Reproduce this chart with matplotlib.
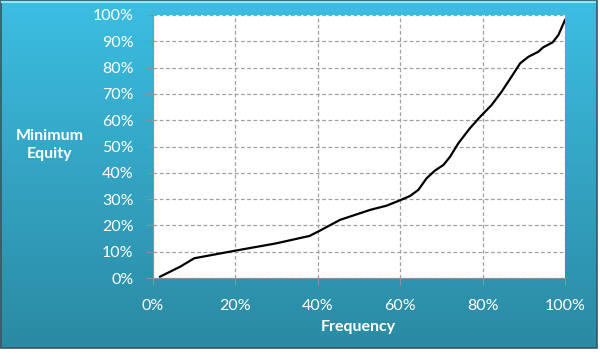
import numpy as np
import matplotlib.pyplot as plt
from matplotlib.ticker import PercentFormatter
from matplotlib.patches import Rectangle

# cumulative curve (percent)
freq = [1.7, 6.6, 10.0, 20.0, 30.0, 38.0, 40.5, 45.4, 52.7, 56.7, 60.2, 62.4,
        64.4, 66.4, 68.4, 70.5, 72.1, 74.1, 76.9, 79.4, 82.2, 84.6, 87.0,
        89.1, 91.1, 93.5, 94.7, 97.0, 98.4, 100.0]
equity = [0.5, 4.3, 7.5, 10.4, 13.2, 16.0, 18.0, 22.1, 25.9, 27.5, 29.7, 31.2,
          33.5, 37.9, 40.8, 43.0, 46.1, 51.2, 56.9, 61.3, 65.8, 70.8, 76.5,
          81.6, 84.1, 86.0, 87.7, 89.6, 92.4, 98.1]
ticks = [0, 10, 20, 30, 40, 50, 60, 70, 80, 90, 100]
xticks = [0, 20, 40, 60, 80, 100]

plt.rcParams['font.family'] = ['Lato', 'DejaVu Sans']

fig = plt.figure(figsize=(6, 3.54), dpi=100)
fig.patch.set_facecolor('white')

# gradient background panel
bg = fig.add_axes([0, 0, 1, 1])
bg.set_xlim(0, 600)
bg.set_ylim(354, 0)
bg.axis('off')
top = np.array([60, 190, 226]) / 255
bot = np.array([43, 138, 163]) / 255
t = np.linspace(0, 1, 256)[:, None]
grad = (top[None, :] * (1 - t) + bot[None, :] * t)[:, None, :]
bg.imshow(grad, extent=[0, 597, 348, 0], aspect='auto')
bg.add_patch(Rectangle((0.5, 0.5), 596, 347.5, fill=False, ec='#3d5560', lw=1.2))
bg.plot([2, 595], [1.5, 1.5], color='#8ee6f7', lw=1.5)

ax = fig.add_axes([153 / 600, 1 - 278 / 354, 412 / 600, 263 / 354])
ax.set_facecolor('white')
ax.plot(freq, equity, color='black', lw=1.6)

ax.set_xlim(0, 100)
ax.set_ylim(0, 100)
ax.set_xticks(xticks)
ax.set_yticks(ticks)
ax.xaxis.set_major_formatter(PercentFormatter(decimals=0))
ax.yaxis.set_major_formatter(PercentFormatter(decimals=0))
ax.grid(True, color='#a0a0a0', ls=(0, (3, 2)), lw=0.9)
ax.set_axisbelow(True)
for s in ['top', 'right']:
    ax.spines[s].set_visible(False)
for s in ['left', 'bottom']:
    ax.spines[s].set_color('#909090')
ax.tick_params(colors='#909090', labelcolor='white', labelsize=11.5, length=5,
               direction='out')
ax.tick_params(axis='x', pad=10)
ax.tick_params(axis='y', pad=9)

fig.text(50 / 600, 1 - 145 / 354, 'Minimum\nEquity', color='white',
         fontweight='bold', fontsize=11.5, ha='center', va='center',
         linespacing=1.3)
fig.text(358 / 600, 1 - 327 / 354, 'Frequency', color='white',
         fontweight='bold', fontsize=11.5, ha='center', va='center')

plt.savefig('out.png', dpi=100)
